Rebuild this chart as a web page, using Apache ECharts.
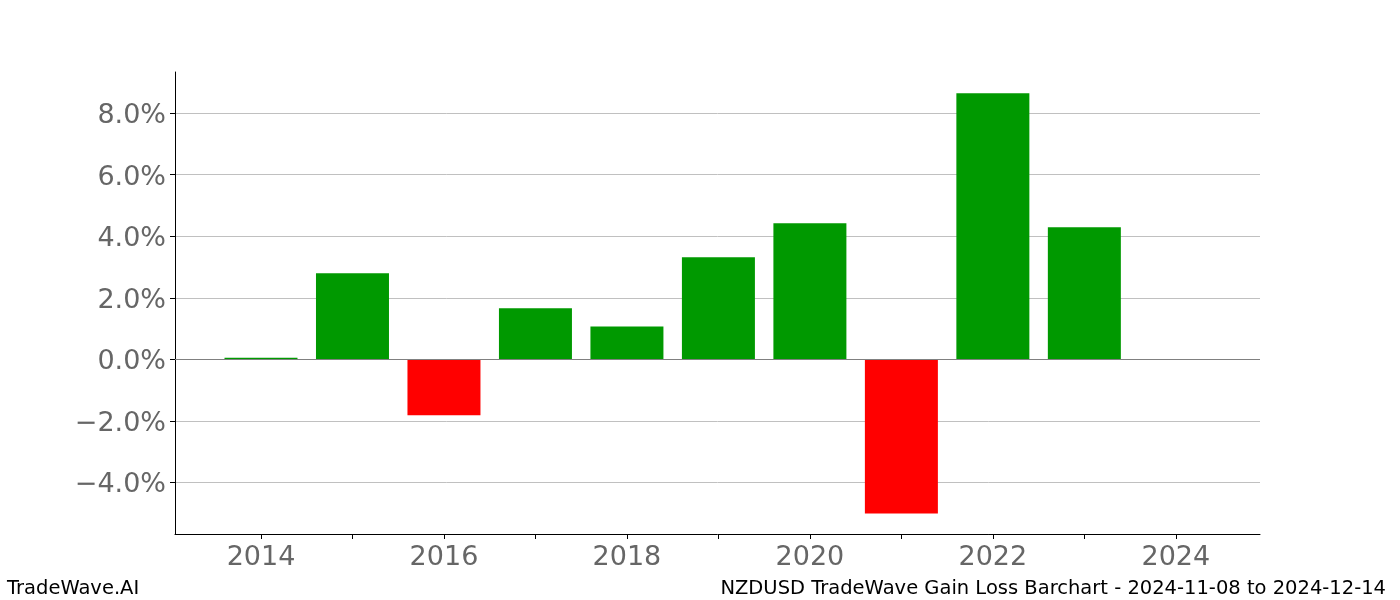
<!DOCTYPE html>
<html>
<head>
<meta charset="utf-8">
<script src="https://cdn.jsdelivr.net/npm/echarts@6/dist/echarts.min.js"></script>
<style>
  html, body { margin: 0; padding: 0; background: #fff; }
  #chart { width: 1400px; height: 600px; }
</style>
</head>
<body>
<div id="chart"></div>
<script>
// yearly gain/loss in percent
const years = [2014, 2015, 2016, 2017, 2018, 2019, 2020, 2021, 2022, 2023, 2024]
const gains = [0.05, 2.80, -1.82, 1.66, 1.07, 3.32, 4.42, -5.01, 8.65, 4.29, 0]
const xTickYears = [2014, 2015, 2016, 2017, 2018, 2019, 2020, 2021, 2022, 2023, 2024]
const xLabelYears = [2014, 2016, 2018, 2020, 2022, 2024]
const yTicks = [-4, -2, 0, 2, 4, 6, 8]

const font = 'DejaVu Sans'
const chart = echarts.init(document.getElementById('chart'))

chart.setOption({
  animation: false,
  backgroundColor: '#ffffff',
  grid: { left: 175, right: 140, top: 72, bottom: 66 },
  graphic: [
    {
      type: 'text', left: 7, top: 579,
      style: { text: 'TradeWave.AI', font: '19.5px "DejaVu Sans"', fill: '#000' }
    },
    {
      type: 'text', right: 14, top: 579,
      style: { text: 'NZDUSD TradeWave Gain Loss Barchart - 2024-11-08 to 2024-12-14', font: '19.5px "DejaVu Sans"', fill: '#000' }
    }
  ],
  xAxis: {
    type: 'value',
    min: 2013.06,
    max: 2024.92,
    axisLine: { show: true, onZero: false, lineStyle: { color: '#000', width: 1 } },
    axisTick: { show: true, length: 5, customValues: xTickYears, lineStyle: { color: '#000' } },
    axisLabel: {
      customValues: xLabelYears,
      formatter: v => String(v),
      color: '#666', fontFamily: font, fontSize: 27, margin: 10
    },
    splitLine: { show: false }
  },
  yAxis: {
    type: 'value',
    min: -5.68,
    max: 9.34,
    axisLine: { show: true, onZero: false, lineStyle: { color: '#000', width: 1 } },
    axisTick: { show: true, length: 5, customValues: yTicks, lineStyle: { color: '#000' } },
    axisLabel: {
      customValues: yTicks,
      formatter: v => '{t|' + (v < 0 ? '\u2212' : '') + Math.abs(v).toFixed(1) + '%}',
      margin: 9,
      rich: {
        t: { color: '#666', fontFamily: font, fontSize: 27, padding: [6, 0, 0, 0] }
      }
    },
    splitLine: { show: true, lineStyle: { color: '#c0c0c0', width: 1 } }
  },
  series: [{
    type: 'bar',
    barWidth: 73,
    data: years.map((y, i) => [y, gains[i]]),
    itemStyle: {
      color: p => (p.value[1] < 0 ? '#ff0000' : '#009900')
    },
    markLine: {
      silent: true,
      symbol: 'none',
      label: { show: false },
      lineStyle: { color: '#808080', width: 1.2, type: 'solid' },
      data: [{ yAxis: 0 }]
    }
  }]
})
</script>
</body>
</html>
